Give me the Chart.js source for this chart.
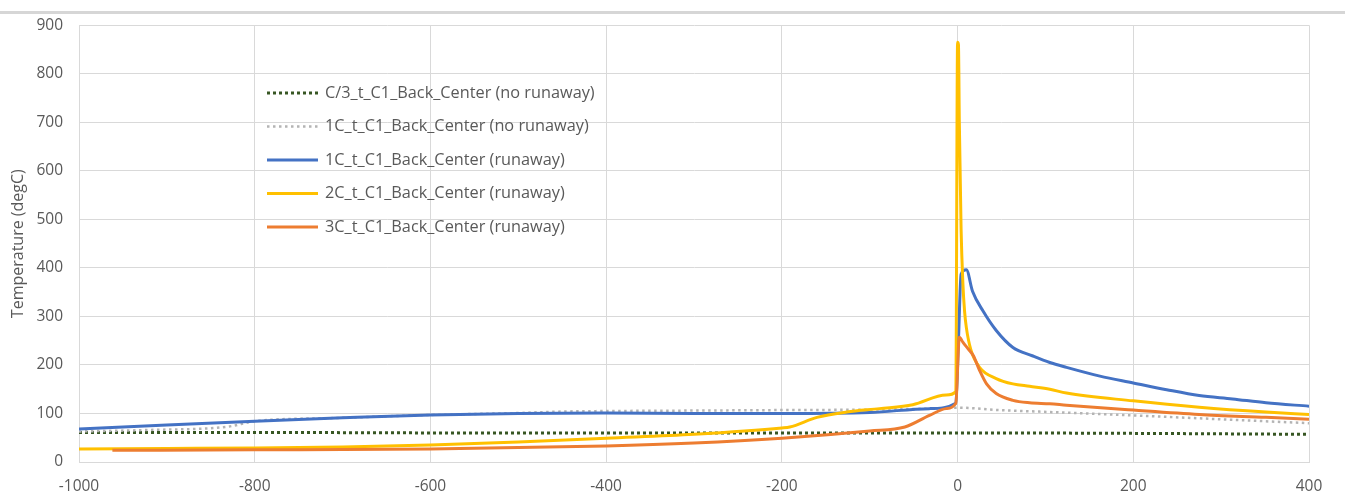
<!DOCTYPE html>
<html>
<head>
<meta charset="utf-8">
<script src="https://cdn.jsdelivr.net/npm/chart.js@4/dist/chart.umd.min.js"></script>
<style>
  html, body { margin: 0; padding: 0; background: #fff; }
  #wrap { width: 1345px; height: 497px; }
</style>
</head>
<body>
<div id="wrap"><canvas id="tempChart" width="1345" height="497"></canvas></div>
<script>
// Données (temps relatif, température en degC)
const xTicks = [-1000, -800, -600, -400, -200, 0, 200, 400];
const yTicks = [0, 100, 200, 300, 400, 500, 600, 700, 800, 900];

const seriesLabels = [
    'C/3_t_C1_Back_Center (no runaway)',
    '1C_t_C1_Back_Center (no runaway)',
    '1C_t_C1_Back_Center (runaway)',
    '2C_t_C1_Back_Center (runaway)',
    '3C_t_C1_Back_Center (runaway)'
];

const c3NoRunawayTime = [-1000, -800, -600, -400, -200, 0, 200, 400];
const c3NoRunawayTemp = [61, 61, 60, 60, 60, 60, 59, 57];

const c1NoRunawayTime = [-1000, -920, -830, -800, -700, -600, -500, -450, -400, -300, -200, -100, -32, 0, 48, 105, 200, 300, 400];
const c1NoRunawayTemp = [63, 66, 73, 84, 91, 97, 101, 104, 105, 106, 107, 108, 110, 112, 107, 103, 96, 88, 80];

const c1RunawayTime = [-1000, -900, -800, -700, -600, -500, -400, -300, -200, -100, -32, -2, 1, 4, 10, 17, 29, 44, 63, 85, 105, 124, 162, 200, 238, 275, 313, 351, 400];
const c1RunawayTemp = [68, 76, 84, 91, 97, 100, 101, 100, 100, 102, 110, 121, 250, 387, 396, 352, 311, 271, 236, 219, 205, 195, 177, 163, 149, 137, 130, 122, 115];

const c2RunawayTime = [-1000, -900, -800, -700, -600, -500, -400, -300, -200, -191, -160, -126, -89, -51, -13, -2, 0, 1, 2, 4, 6, 8, 10, 15, 25, 44, 63, 82, 105, 124, 200, 275, 351, 400];
const c2RunawayTemp = [27, 28, 29, 31, 35, 41, 49, 57, 70, 72, 92, 103, 110, 118, 138, 145, 865, 860, 700, 480, 370, 310, 277, 232, 195, 172, 161, 156, 150, 142, 126, 113, 103, 98];

const c3RunawayTime = [-962, -800, -600, -500, -400, -300, -200, -100, -60, -32, -13, -2, 2, 6, 12, 18, 25, 33, 44, 63, 82, 105, 124, 200, 275, 351, 400];
const c3RunawayTemp = [24, 25, 27, 30, 33, 39, 49, 64, 72, 96, 110, 121, 257, 247, 233, 219, 189, 161, 141, 127, 122, 120, 117, 107, 98, 92, 88];

function toPoints(xs, ys) {
    return xs.map((x, i) => ({ x: x, y: ys[i] }));
}

const textColor = '#595959';
const gridColor = '#d9d9d9';
const fontFamily = '"Open Sans", sans-serif';

// ligne grise en haut + légende dans la zone du graphique
const framePlugin = {
    id: 'frame',
    beforeDraw(chart) {
        const ctx = chart.ctx;
        ctx.save();
        ctx.fillStyle = '#d6d6d6';
        ctx.fillRect(0, 11, chart.width, 3);
        ctx.restore();
    },
    afterDraw(chart) {
        const ctx = chart.ctx;
        const x0 = 267, x1 = 318, tx = 325, y0 = 93, step = 33.5;
        ctx.save();
        ctx.font = '16.3px ' + fontFamily;
        ctx.textBaseline = 'middle';
        chart.data.datasets.forEach((ds, i) => {
            const y = y0 + i * step;
            ctx.beginPath();
            ctx.strokeStyle = ds.borderColor;
            ctx.lineWidth = ds.borderWidth;
            ctx.setLineDash(ds.borderDash || []);
            ctx.moveTo(x0, y);
            ctx.lineTo(x1, y);
            ctx.stroke();
            ctx.setLineDash([]);
            ctx.fillStyle = textColor;
            ctx.fillText(ds.label, tx, y);
        });
        ctx.restore();
    }
};

const ctx = document.getElementById('tempChart').getContext('2d');
const tempChart = new Chart(ctx, {
    type: 'line',
    data: {
        datasets: [{
            label: seriesLabels[0],
            data: toPoints(c3NoRunawayTime, c3NoRunawayTemp),
            borderColor: '#375623',
            borderWidth: 3,
            borderDash: [3, 3],
            order: 4
        }, {
            label: seriesLabels[1],
            data: toPoints(c1NoRunawayTime, c1NoRunawayTemp),
            borderColor: '#b4b4b4',
            borderWidth: 2.5,
            borderDash: [2.5, 3.5],
            order: 3
        }, {
            label: seriesLabels[2],
            data: toPoints(c1RunawayTime, c1RunawayTemp),
            borderColor: '#4472c4',
            borderWidth: 3,
            order: 2
        }, {
            label: seriesLabels[3],
            data: toPoints(c2RunawayTime, c2RunawayTemp),
            borderColor: '#ffc000',
            borderWidth: 3,
            order: 1
        }, {
            label: seriesLabels[4],
            data: toPoints(c3RunawayTime, c3RunawayTemp),
            borderColor: '#ed7d31',
            borderWidth: 3,
            order: 0
        }]
    },
    options: {
        responsive: false,
        animation: false,
        devicePixelRatio: 1,
        layout: { padding: { top: 23, right: 36, left: 0, bottom: 0 } },
        elements: {
            point: { radius: 0 },
            line: { cubicInterpolationMode: 'monotone', fill: false }
        },
        plugins: {
            legend: { display: false },
            tooltip: { enabled: false }
        },
        scales: {
            x: {
                type: 'linear',
                min: xTicks[0],
                max: xTicks[xTicks.length - 1],
                afterBuildTicks: (scale) => { scale.ticks = xTicks.map(v => ({ value: v })); },
                afterFit: (scale) => { scale.height = 35; },
                grid: { color: gridColor, drawTicks: false },
                border: { color: gridColor },
                ticks: {
                    color: textColor,
                    font: { family: fontFamily, size: 15.5 },
                    padding: 15,
                    maxRotation: 0,
                    callback: (v) => String(v)
                }
            },
            y: {
                min: yTicks[0],
                max: yTicks[yTicks.length - 1],
                afterBuildTicks: (scale) => { scale.ticks = yTicks.map(v => ({ value: v })); },
                afterFit: (scale) => { scale.width = 79; },
                grid: { color: gridColor, drawTicks: false },
                border: { color: gridColor },
                ticks: {
                    color: textColor,
                    font: { family: fontFamily, size: 15.5 },
                    padding: 16,
                    callback: (v) => String(v)
                },
                title: {
                    display: true,
                    text: 'Temperature (degC)',
                    color: textColor,
                    font: { family: fontFamily, size: 16 },
                    padding: { top: 9, bottom: 0 }
                }
            }
        }
    },
    plugins: [framePlugin]
});
</script>
</body>
</html>
